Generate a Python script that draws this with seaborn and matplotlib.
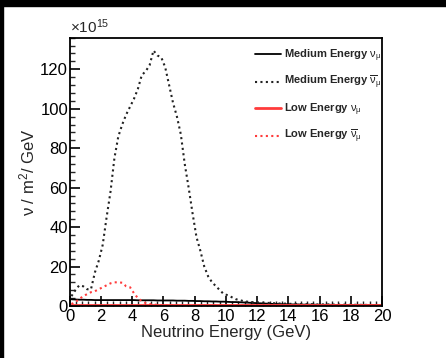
import numpy as np
import pandas as pd
import matplotlib
matplotlib.use("Agg")
import matplotlib.pyplot as plt
from matplotlib.patches import Rectangle
from matplotlib.ticker import MultipleLocator
import seaborn as sns

# ---- data (values in units of 1e15 nu / m^2 / GeV), bin centres of 0.25 GeV bins ----
energy = np.arange(80) * 0.25 + 0.125

me_nubar = [5, 8, 10.5, 10, 8.5, 8.5, 17, 23, 31, 45, 58, 75, 86, 92, 97, 101,
            105, 110, 117, 119, 122, 129.5, 127, 126, 121, 112, 103, 96, 87, 72, 60, 47,
            35, 28, 20, 15, 12, 10, 8, 6, 5.5, 4.5, 3.5, 3, 2.5, 2.2, 2, 1.9,
            1.8, 1.7, 1.6, 1.5, 1.4, 1.3, 1.2, 1.2, 1.1, 1.1, 1.0, 1.0, 0.9, 0.9, 0.9, 0.8,
            0.8, 0.8, 0.8, 0.7, 0.7, 0.7, 0.7, 0.6, 0.6, 0.6, 0.6, 0.6, 0.5, 0.5, 0.5, 0.5]

me_nu = [3.4, 3.3, 3.2, 3.2, 3.1, 3.1, 3.0, 3.0, 3.0, 3.0, 3.0, 3.0, 3.0, 3.0, 3.0, 3.0,
         3.0, 2.9, 2.9, 2.9, 2.9, 2.9, 2.8, 2.8, 2.8, 2.8, 2.8, 2.7, 2.7, 2.7, 2.6, 2.6,
         2.5, 2.5, 2.4, 2.4, 2.3, 2.3, 2.2, 2.2, 2.1, 2.0, 2.0, 1.9, 1.8, 1.7, 1.6, 1.5,
         1.4, 1.3, 1.2, 1.1, 1.0, 1.0, 0.9, 0.9, 0.8, 0.8, 0.8, 0.7, 0.7, 0.7, 0.7, 0.6,
         0.6, 0.6, 0.6, 0.6, 0.5, 0.5, 0.5, 0.5, 0.5, 0.5, 0.5, 0.5, 0.5, 0.5, 0.5, 0.5]

le_nubar = [1, 2, 3.5, 5, 6, 7, 7.5, 8.5, 9.5, 10.5, 11.5, 12, 12, 11.8, 10, 9.5,
            6.5, 4, 2.5, 1.5, 1, 0.8, 0.5, 0.4, 0.3, 0.3, 0.3, 0.3, 0.2, 0.2, 0.2, 0.2] + [0.2] * 48

le_nu = [0.3] * 80

labels = [r"Medium Energy $\nu_{\mu}$",
          r"Medium Energy $\overline{\nu}_{\mu}$",
          r"Low Energy $\nu_{\mu}$",
          r"Low Energy $\overline{\nu}_{\mu}$"]

x_ticks = list(range(0, 21, 2))
y_ticks = list(range(0, 121, 20))

# ---- style ----
sns.set_style("ticks")
plt.rcParams["font.family"] = ["Liberation Sans", "DejaVu Sans"]
plt.rcParams["mathtext.fontset"] = "custom"
plt.rcParams["mathtext.rm"] = "Liberation Sans"
plt.rcParams["mathtext.it"] = "Liberation Sans"
plt.rcParams["mathtext.bf"] = "Liberation Sans:bold"

fig = plt.figure(figsize=(4.46, 3.58), dpi=100)
fig.patch.set_facecolor("white")
ax = fig.add_axes([69.5 / 446, 52 / 358, (382 - 69.5) / 446, (306 - 37.7) / 358])

dotted = (0, (1.0, 1.6))
series = [
    (me_nu, "black", "-", 1.3),
    (me_nubar, "#222222", dotted, 1.5),
    (le_nu, "#ff3b3b", "-", 2.0),
    (le_nubar, "#ff3b3b", dotted, 1.5),
]
handles = []
for (vals, col, ls, lw), lab in zip(series, labels):
    df = pd.DataFrame({"E": energy, "flux": vals})
    sns.lineplot(data=df, x="E", y="flux", ax=ax, color=col, linestyle=ls,
                 linewidth=lw, label=lab, legend=False)
    handles.append(ax.lines[-1])

ax.set_xlim(0, 20)
ax.set_ylim(0, 136)
ax.set_xticks(x_ticks)
ax.set_yticks(y_ticks)
ax.xaxis.set_minor_locator(MultipleLocator(0.4))
ax.yaxis.set_minor_locator(MultipleLocator(4))
ax.tick_params(axis="both", which="major", direction="in", length=7, width=1.2,
               labelsize=12, colors="black", top=False, right=False)
ax.tick_params(axis="both", which="minor", direction="in", length=3.5, width=1.0,
               top=False, right=False)
ax.tick_params(axis="y", which="major", pad=1)
ax.tick_params(axis="x", which="major", pad=2)
for s in ax.spines.values():
    s.set_linewidth(1.3)
    s.set_color("black")

ax.set_xlabel("Neutrino Energy (GeV)", fontsize=12, labelpad=1)
ax.set_ylabel(r"$\nu$ / m$^2$/ GeV", fontsize=12, labelpad=2)
ax.text(0.0, 1.005, r"$\times$10$^{15}$", transform=ax.transAxes, fontsize=11,
        ha="left", va="bottom")

leg = ax.legend(handles=handles, labels=labels, loc="upper left",
                bbox_to_anchor=(0.56, 1.0), frameon=False,
                prop={"weight": "bold", "size": 8}, handlelength=2.4,
                labelspacing=0.92, handletextpad=0.25)

# black border strips from the reference capture
fig.patches.append(Rectangle((0, 1 - 5.5 / 358), 1, 5.5 / 358, transform=fig.transFigure,
                             color="black", zorder=10))
fig.patches.append(Rectangle((0, 0), 3 / 446, 1, transform=fig.transFigure,
                             color="black", zorder=10))

fig.savefig("out.png", dpi=100)
